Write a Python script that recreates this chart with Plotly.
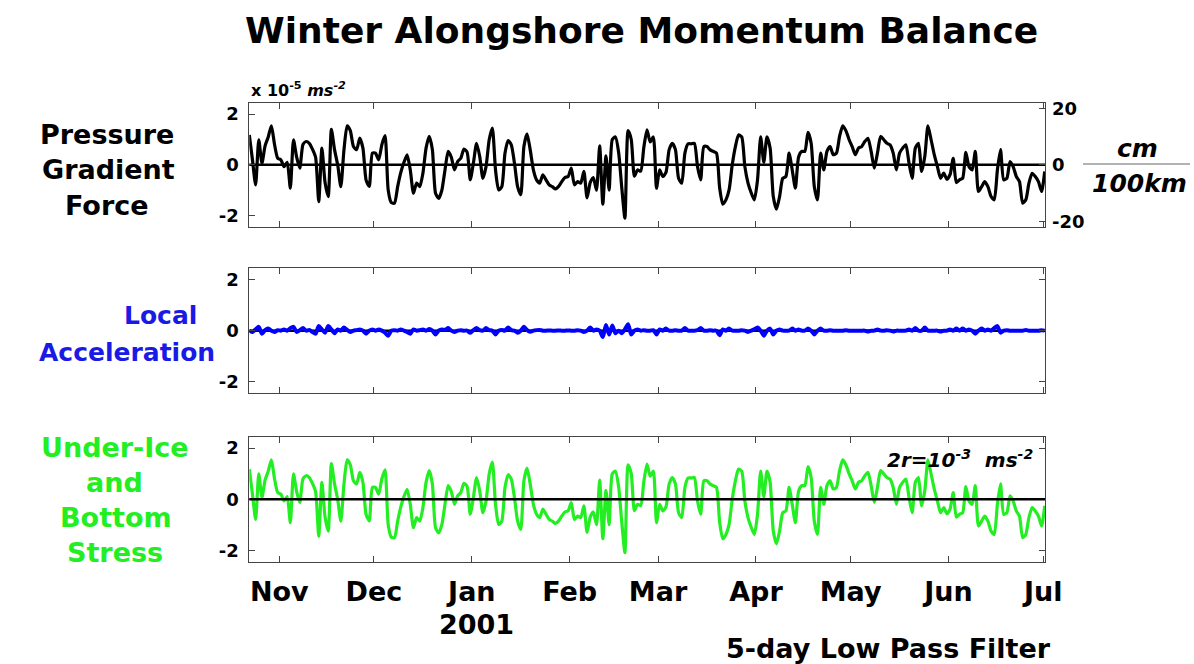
import pandas as pd
import plotly.graph_objects as go

# Daily (5-day low-pass) alongshore momentum terms, units of 1e-5 m s^-2
pgf = [
    1.18, 0.2, -0.79, 0.99, 0.07, 0.75, 1.1, 1.54, 0.8, 0.26,
    0.2, -0.07, 0.1, -0.92, 0.99, 0.3, -0.13, 0.8, 0.92, 0.85,
    0.62, 0.3, -1.45, 0.66, -0.7, -1.25, 1.4, 0.6, 0.0, -0.86,
    0.6, 1.54, 1.35, 0.72, 0.6, 1.05, 0.66, -0.6, -0.85, 0.46,
    0.46, 0.2, 0.8, 1.15, -0.99, -1.49, -1.51, -0.86, -0.3, 0.1,
    0.39, -0.2, -1.12, -0.72, -0.86, -0.33, 0.66, 1.12, 0.6, -1.12,
    -1.32, -1.0, -0.2, 0.53, 0.3, -0.2, 0.13, 0.26, 0.62, 0.5,
    -0.59, 0.07, 0.85, 0.33, -0.53, -0.07, 0.99, 1.45, -0.2, -0.99,
    -0.86, 0.46, 0.96, 0.79, 0.07, -0.86, -1.18, 0.72, 1.22, 0.59,
    -0.2, -0.59, -0.72, -0.39, -0.59, -0.79, -0.86, -0.95, -0.85, -0.66,
    -0.5, -0.46, -0.13, -0.79, -0.66, -0.72, -0.26, -1.3, -0.7, -0.5,
    -1.0, 0.75, -1.55, 0.35, -1.0, 1.0, 1.1, 0.5, -0.9, -2.1,
    1.35, 1.0, -0.45, -0.2, -0.25, 0.7, 1.38, 0.9, 1.1, -0.92,
    -0.2, -0.46, -0.3, 0.59, 0.85, 0.6, -0.53, -0.72, 0.46, 0.83,
    0.83, 0.85, -0.07, -0.59, 0.72, 0.72, 0.59, 0.53, 0.46, -0.9,
    -1.55, -1.38, -0.99, 0.0, 0.72, 1.18, 1.1, -0.07, -0.72, -1.1,
    -1.38, -0.6, 1.1, 0.1, 1.1, 0.66, -1.25, -1.75, -1.25, -0.53,
    -0.46, 0.46, -0.2, -0.92, 0.3, 0.53, 0.53, 1.28, 0.85, -0.86,
    -1.38, 0.46, -0.2, 0.53, 0.72, 0.4, 0.46, 1.12, 1.54, 1.35,
    1.0, 0.72, 0.4, 0.66, 0.72, 0.92, 1.05, 0.53, -0.13, 0.46,
    1.12, 0.99, 0.85, 0.79, 0.46, -0.2, 0.46, 0.66, 0.79, 0.07,
    -0.53, 0.66, 0.85, -0.26, 0.33, 1.54, 0.99, 0.4, -0.07, -0.53,
    -0.33, -0.57, -0.39, 0.26, -0.7, -0.59, -0.53, 0.49, -0.07, -0.2,
    0.53, -1.05, -0.86, -0.66, -0.86, -1.25, -1.38, -0.2, 0.6, -0.59,
    -0.53, 0.13, -0.07, -0.46, -0.66, -1.51, -1.38, -0.72, -0.33, -0.46,
    -0.66, -1.05, -0.26,
]

accel = [
    0.0, -0.05, 0.05, 0.15, -0.12, 0.02, 0.08, 0.0, -0.05, 0.02,
    0.0, 0.05, 0.0, 0.1, 0.15, -0.05, 0.02, 0.1, 0.0, 0.03,
    -0.05, -0.12, 0.18, 0.05, -0.08, 0.18, 0.05, -0.1, 0.05, 0.0,
    0.12, 0.03, -0.05, 0.0, 0.02, 0.05, 0.0, -0.12, 0.0, 0.05,
    0.0, 0.05, 0.0, -0.08, -0.2, 0.0, 0.02, 0.0, 0.05, 0.0,
    -0.05, -0.12, 0.05, 0.0, 0.02, 0.05, 0.0, 0.06, 0.0, -0.15,
    0.0, 0.05, 0.03, 0.1, 0.0, -0.05, 0.0, 0.02, 0.0, 0.0,
    -0.08, 0.02, 0.1, 0.02, 0.0, 0.1, 0.02, 0.0, -0.15, 0.0,
    0.03, 0.0, 0.12, 0.02, 0.0, -0.08, 0.0, 0.15, 0.02, -0.04,
    0.0, 0.02, 0.03, 0.0, 0.0, 0.01, 0.0, 0.0, 0.01, 0.0,
    0.0, 0.01, 0.0, 0.0, 0.02, 0.0, -0.05, 0.0, 0.12, 0.0,
    0.05, 0.0, -0.25, 0.22, -0.15, 0.2, -0.1, 0.0, -0.1, 0.05,
    0.25, -0.15, 0.0, 0.05, 0.0, 0.02, 0.0, 0.0, 0.02, -0.15,
    0.05, 0.0, 0.08, 0.0, 0.0, 0.02, 0.0, 0.0, 0.1, 0.0,
    0.0, 0.0, 0.02, 0.1, 0.0, 0.0, 0.02, 0.0, 0.0, -0.18,
    0.05, 0.0, 0.08, 0.0, 0.0, 0.0, 0.02, 0.0, -0.05, 0.0,
    0.05, 0.12, 0.0, -0.2, 0.0, 0.08, -0.15, 0.0, 0.05, 0.0,
    0.0, 0.0, 0.08, 0.0, 0.05, 0.0, 0.0, 0.08, 0.0, -0.15,
    0.0, 0.08, 0.0, 0.0, 0.02, 0.0, 0.0, 0.0, 0.0, 0.02,
    0.0, 0.0, 0.0, 0.0, 0.0, 0.0, -0.03, 0.0, 0.0, 0.05,
    0.0, 0.0, 0.02, 0.0, -0.03, 0.0, 0.0, 0.0, 0.0, 0.05,
    0.0, 0.1, 0.0, 0.0, 0.12, 0.0, 0.0, 0.0, 0.0, -0.03,
    0.0, 0.0, 0.05, 0.0, 0.08, 0.0, 0.08, 0.0, 0.05, 0.0,
    -0.12, 0.0, 0.08, 0.0, 0.05, 0.0, 0.1, 0.18, -0.08, 0.0,
    0.02, 0.0, 0.0, 0.0, 0.0, 0.0, 0.03, 0.0, 0.0, 0.0,
    0.0, 0.02, 0.0,
]

stress = [
    1.18, 0.2, -0.79, 0.99, 0.07, 0.75, 1.1, 1.54, 0.8, 0.26,
    0.2, -0.07, 0.1, -0.92, 0.99, 0.3, -0.13, 0.8, 0.92, 0.85,
    0.62, 0.3, -1.45, 0.66, -0.7, -1.25, 1.4, 0.6, 0.0, -0.86,
    0.6, 1.54, 1.35, 0.72, 0.6, 1.05, 0.66, -0.6, -0.85, 0.46,
    0.46, 0.2, 0.8, 1.15, -0.99, -1.49, -1.51, -0.86, -0.3, 0.1,
    0.39, -0.2, -1.12, -0.72, -0.86, -0.33, 0.66, 1.12, 0.6, -1.12,
    -1.32, -1.0, -0.2, 0.53, 0.3, -0.2, 0.13, 0.26, 0.62, 0.5,
    -0.59, 0.07, 0.85, 0.33, -0.53, -0.07, 0.99, 1.45, -0.2, -0.99,
    -0.86, 0.46, 0.96, 0.79, 0.07, -0.86, -1.18, 0.72, 1.22, 0.59,
    -0.2, -0.59, -0.72, -0.39, -0.59, -0.79, -0.86, -0.95, -0.85, -0.66,
    -0.5, -0.46, -0.13, -0.79, -0.66, -0.72, -0.26, -1.3, -0.7, -0.5,
    -1.0, 0.75, -1.55, 0.35, -1.0, 1.0, 1.1, 0.5, -0.9, -2.1,
    1.35, 1.0, -0.45, -0.2, -0.25, 0.7, 1.38, 0.9, 1.1, -0.92,
    -0.2, -0.46, -0.3, 0.59, 0.85, 0.6, -0.53, -0.72, 0.46, 0.83,
    0.83, 0.85, -0.07, -0.59, 0.72, 0.72, 0.59, 0.53, 0.46, -0.9,
    -1.55, -1.38, -0.99, 0.0, 0.72, 1.18, 1.1, -0.07, -0.72, -1.1,
    -1.38, -0.6, 1.1, 0.1, 1.1, 0.66, -1.25, -1.75, -1.25, -0.53,
    -0.46, 0.46, -0.2, -0.92, 0.3, 0.53, 0.53, 1.28, 0.85, -0.86,
    -1.38, 0.46, -0.2, 0.53, 0.72, 0.4, 0.46, 1.12, 1.54, 1.35,
    1.0, 0.72, 0.4, 0.66, 0.72, 0.92, 1.05, 0.53, -0.13, 0.46,
    1.12, 0.99, 0.85, 0.79, 0.46, -0.2, 0.46, 0.66, 0.79, 0.07,
    -0.53, 0.66, 0.85, -0.26, 0.33, 1.54, 0.99, 0.4, -0.07, -0.53,
    -0.33, -0.57, -0.39, 0.26, -0.7, -0.59, -0.53, 0.49, -0.07, -0.2,
    0.53, -1.05, -0.86, -0.66, -0.86, -1.25, -1.38, -0.2, 0.6, -0.59,
    -0.53, 0.13, -0.07, -0.46, -0.66, -1.51, -1.38, -0.72, -0.33, -0.46,
    -0.66, -1.05, -0.26,
]

start_day = "2000-10-22 12:00"
days = pd.date_range(start_day, periods=len(pgf), freq="D")

month_ticks = ["2000-11-01", "2000-12-01", "2001-01-01", "2001-02-01", "2001-03-01",
               "2001-04-01", "2001-05-01", "2001-06-01", "2001-07-01"]
month_labels = ["Nov", "Dec", "Jan", "Feb", "Mar", "Apr", "May", "Jun", "Jul"]

y_ticks = [-2, 0, 2]
y_tick_text = ["-2", "0", "2"]
slope_ticks = [-20, 0, 20]
slope_tick_text = ["-20", "0", "20"]

W, H = 1194, 664
FONT = "DejaVu Sans"
GREEN = "#22ee22"
BLUE = "#0000ff"
FRAME = "#444444"


def px(x):
    return x / W


def py(y):
    return 1 - y / H


X_DOM = [px(249.3), px(1045.0)]
X_RANGE = ["2000-10-22 12:00", "2001-07-01 14:00"]
PANELS = [(102.7, 227.0), (268.3, 393.0), (436.7, 561.7)]

fig = go.Figure()
smooth = dict(shape="spline", smoothing=0.6)
fig.add_trace(go.Scatter(x=days, y=pgf, xaxis="x", yaxis="y", mode="lines",
                         line=dict(color="black", width=3.2, **smooth), hoverinfo="skip"))
fig.add_trace(go.Scatter(x=days, y=accel, xaxis="x2", yaxis="y2", mode="lines",
                         line=dict(color=BLUE, width=4, **smooth), hoverinfo="skip"))
fig.add_trace(go.Scatter(x=days, y=stress, xaxis="x3", yaxis="y3", mode="lines",
                         line=dict(color=GREEN, width=3.2, **smooth), hoverinfo="skip"))
# carrier for the sea-surface-slope axis on the right of the top panel
fig.add_trace(go.Scatter(x=[], y=[], xaxis="x", yaxis="y4", mode="lines", hoverinfo="skip"))

tick_font = dict(family=FONT, size=18, color="black", weight="bold")
layout = dict(
    template="none",
    width=W, height=H, autosize=False,
    margin=dict(l=0, r=0, t=0, b=0, pad=0),
    paper_bgcolor="white", plot_bgcolor="white",
    showlegend=False,
)

for i, (top, bot) in enumerate(PANELS, start=1):
    sfx = "" if i == 1 else str(i)
    layout["xaxis" + sfx] = dict(
        domain=X_DOM, range=X_RANGE, type="date", anchor="y" + sfx,
        tickvals=month_ticks, ticktext=month_labels, showticklabels=(i == 3),
        ticks="inside", ticklen=6, tickcolor=FRAME, tickwidth=1,
        showline=True, linecolor=FRAME, linewidth=1, mirror="ticks",
        showgrid=False, zeroline=False, automargin=False,
        tickfont=dict(family=FONT, size=27, color="black", weight="bold"),
        ticklabelstandoff=6,
    )
    layout["yaxis" + sfx] = dict(
        domain=[py(bot), py(top)], range=[-2.45, 2.45], anchor="x" + sfx,
        tickvals=y_ticks, ticktext=y_tick_text, tickfont=tick_font,
        ticks="inside", ticklen=6, tickcolor=FRAME, tickwidth=1,
        showline=True, linecolor=FRAME, linewidth=1,
        mirror=True if i == 1 else "ticks",
        showgrid=False, zeroline=False, automargin=False, ticklabelstandoff=6,
    )

layout["yaxis4"] = dict(
    overlaying="y", side="right", anchor="x", range=[-22, 22],
    tickvals=slope_ticks, ticktext=slope_tick_text, tickfont=tick_font,
    ticks="inside", ticklen=6, tickcolor=FRAME, tickwidth=1,
    showline=False, showgrid=False, zeroline=False, automargin=False,
    ticklabelstandoff=6,
)
fig.update_layout(**layout)

# zero reference lines
for i in (1, 2, 3):
    sfx = "" if i == 1 else str(i)
    fig.add_shape(type="line", xref=f"x{sfx} domain", yref=f"y{sfx}",
                  x0=0, x1=1, y0=0, y1=0,
                  line=dict(color="black", width=2.5),
                  layer="above" if i == 3 else "below")

# fraction bar of the cm / 100km unit
fig.add_shape(type="line", xref="paper", yref="paper",
              x0=px(1083), x1=px(1190), y0=py(164), y1=py(164),
              line=dict(color="#999999", width=1.5))


def note(text, x, y, size, color="black", xanchor="center", italic=False):
    fig.add_annotation(
        text=text, x=px(x), y=py(y), xref="paper", yref="paper",
        xanchor=xanchor, yanchor="middle", showarrow=False,
        font=dict(family=FONT, size=size, color=color, weight="bold",
                  style="italic" if italic else "normal"),
    )


note("Winter Alongshore Momentum Balance", 641, 30, 36)

for word, x, y in [("Pressure", 107, 135), ("Gradient", 108, 169), ("Force", 107, 205)]:
    note(word, x, y, 27)
for word, x, y in [("Local", 160, 315), ("Acceleration", 127, 352)]:
    note(word, x, y, 25, color="#1a1ae6")
for word, x, y in [("Under-Ice", 115, 447), ("and", 114, 482), ("Bottom", 116, 517), ("Stress", 115, 552)]:
    note(word, x, y, 27, color=GREEN)

note("x 10<sup>-5</sup> <i>ms<sup>-2</sup></i>", 249, 89, 16, xanchor="left")
note("cm", 1137, 148, 25, italic=True)
note("100km", 1139, 183, 25, italic=True)
note("2r=10<sup>-3</sup>  ms<sup>-2</sup>", 885, 459, 20, xanchor="left", italic=True)
note("2001", 476, 624, 27)
note("5-day Low Pass Filter", 1053, 648, 27, xanchor="right")

fig.write_html("out.html")
